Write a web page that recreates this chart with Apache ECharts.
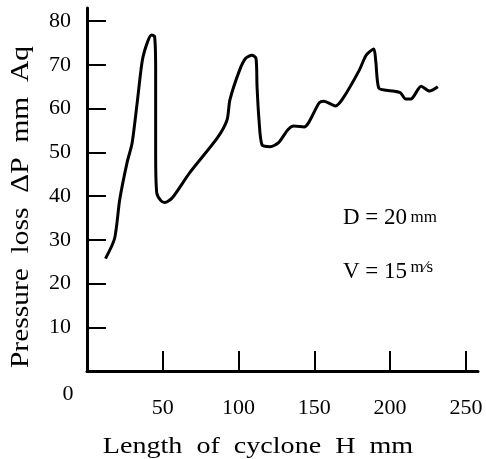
<!DOCTYPE html>
<html><head><meta charset="utf-8">
<script src="https://cdn.jsdelivr.net/npm/echarts@6/dist/echarts.min.js"></script>
<style>html,body{margin:0;padding:0;background:#fff}#c{width:486px;height:459px}</style>
</head><body><div id="c"></div>
<script>
var lengthH = [12.2,18.2,21.6,26.4,29.7,33.1,36.5,39.9,42.6,44.6,45.3,45.3,46.0,48.6,51.3,56.3,67.7,86.0,92.4,94.3,100.7,104.7,108.8,111.5,112.2,113.5,115.5,120.9,126.4,132.4,136.5,143.2,153.2,156.3,163.9,169.0,179.7,184.2,189.2,190.5,192.5,197.5,202.0,206.8,210.3,213.7,220.5,226.0,231.5];
var pressure = [25.7,30.3,39.2,47.6,52.0,61.3,71.0,75.2,76.8,76.5,68.8,50.0,40.8,39.0,38.5,39.6,45.3,53.3,57.4,62.0,68.8,71.5,72.2,71.5,65.0,57.4,51.7,51.3,52.2,55.1,56.0,55.8,61.3,61.7,60.6,62.4,68.8,72.2,73.6,71.0,64.7,64.2,64.0,63.6,62.2,62.2,65.1,64.0,65.0];
var xTicks = [50,100,150,200,250];
var yTicks = [10,20,30,40,50,60,70,80];
var xTitle = 'Length  of  cyclone  H  mm';
var yTitle = 'Pressure  loss  ΔP  mm  Aq';

var pts = lengthH.map(function(x,i){return [x, pressure[i]];});
var font = 'Liberation Serif';
var chart = echarts.init(document.getElementById('c'), null, {renderer:'canvas'});
chart.setOption({
  backgroundColor:'#fff',
  animation:false,
  grid:{left:87, right:8, top:8, bottom:88},
  xAxis:{type:'value', min:0, max:258,
    axisLine:{lineStyle:{color:'#000', width:3}},
    axisTick:{inside:true, length:20, customValues:xTicks, lineStyle:{color:'#000', width:2}},
    axisLabel:{customValues:xTicks, margin:26, color:'#000', fontFamily:font, fontSize:22},
    splitLine:{show:false}
  },
  yAxis:{type:'value', min:0, max:83,
    axisLine:{show:true, lineStyle:{color:'#000', width:3}},
    axisTick:{show:true, inside:true, length:19, customValues:yTicks, lineStyle:{color:'#000', width:2}},
    axisLabel:{customValues:yTicks, margin:16, color:'#000', fontFamily:font, fontSize:22},
    splitLine:{show:false}
  },
  graphic:[
    {type:'text', x:21, y:207, rotation:Math.PI/2, scaleX:1.18, style:{text:yTitle, fill:'#000', font:'25px "Liberation Serif"', textAlign:'center', textVerticalAlign:'middle'}},
    {type:'text', x:258, y:447, scaleX:1.17, style:{text:xTitle, fill:'#000', font:'24px "Liberation Serif"', textAlign:'center', textVerticalAlign:'middle'}},
    {type:'text', x:68, y:394, style:{text:'0', fill:'#000', font:'22px "Liberation Serif"', textAlign:'center', textVerticalAlign:'middle'}},
    {type:'text', x:343, y:218, style:{rich:{a:{fontFamily:font, fontSize:23, fill:'#000'}, b:{fontFamily:font, fontSize:17, fill:'#000'}}, text:'{a|D = 20} {b|mm}', textVerticalAlign:'middle'}},
    {type:'text', x:343, y:272, style:{rich:{a:{fontFamily:font, fontSize:23, fill:'#000'}, b:{fontFamily:font, fontSize:17, fill:'#000', padding:[0,0,8,0]}}, text:'{a|V = 15} {b|m⁄s}', textVerticalAlign:'middle'}}
  ],
  series:[{type:'line', data:pts, smooth:0.25, showSymbol:false, lineStyle:{color:'#000', width:3}}]
});
</script></body></html>
